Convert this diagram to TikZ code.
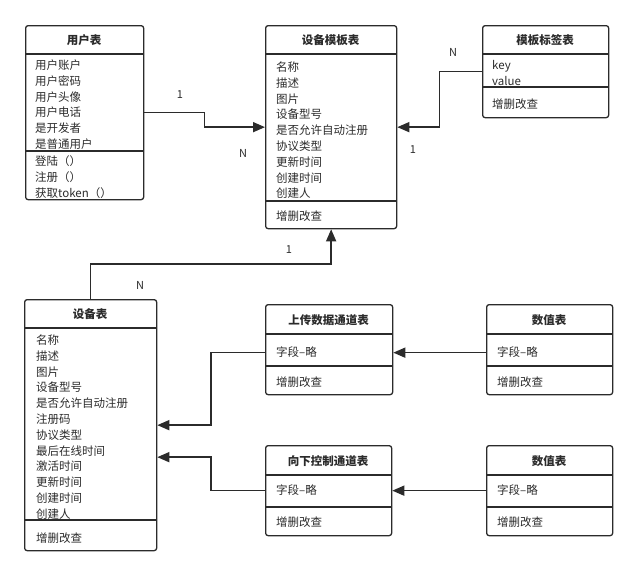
\documentclass[tikz,border=0pt]{standalone}
\usepackage{fontspec}
\setmainfont{Noto Sans CJK SC}
\usetikzlibrary{positioning, arrows.meta, calc}
\definecolor{ink}{HTML}{2B2B2B}

\begin{document}
\begin{tikzpicture}[x=1pt, y=-1pt,
      tbl/.style={draw=ink, line width=1.3pt, rounded corners=2.5pt,
        anchor=north west, inner sep=0pt},
      title/.style={font=\fontsize{11.5}{14}\selectfont\bfseries, text=ink},
      rows/.style={anchor=base west, align=left, inner sep=0pt,
        font=\fontsize{11.5}{15.8}\selectfont, text=ink},
      sep/.style={draw=ink, line width=1.3pt},
      link/.style={-{Triangle[length=12pt, width=10pt]}, draw=ink, line width=1.5pt},
      card/.style={font=\fontsize{11}{13}\selectfont, text=ink}]
    \useasboundingbox (0,0) rectangle (637,576);

    % 用户表
    \node[tbl, minimum width=118pt, minimum height=174pt] (user) at (25,25) {};
    \node[title] (user-t) at (84,40) {用户表};
    \draw[sep] (25,54) -- (143,54) (25,151) -- (143,151);
    \node[rows] (user-a) at (35,148.4) {用户账户\\用户密码\\用户头像\\用户电话\\是开发者\\是普通用户};
    \node[rows] (user-m) at (35,197) {登陆（）\\注册（）\\获取token（）};

    % 设备模板表
    \node[tbl, minimum width=131pt, minimum height=203pt] (tmpl) at (265,25) {};
    \node[title] (tmpl-t) at (330.5,40) {设备模板表};
    \draw[sep] (265,54) -- (396,54) (265,201) -- (396,201);
    \node[rows] (tmpl-a) at (276,197.8) {名称\\描述\\图片\\设备型号\\是否允许自动注册\\协议类型\\更新时间\\创建时间\\创建人};
    \node[rows] (tmpl-m) at (276,220.4) {增删改查};

    % 模板标签表
    \node[tbl, minimum width=126pt, minimum height=92pt] (tag) at (482,25) {};
    \node[title] (tag-t) at (545,40) {模板标签表};
    \draw[sep] (482,54) -- (608,54) (482,87) -- (608,87);
    \node[rows] (tag-a) at (492,85.2) {key\\value};
    \node[rows] (tag-m) at (492,108.4) {增删改查};

    % 设备表
    \node[tbl, minimum width=132pt, minimum height=251pt] (dev) at (24,299) {};
    \node[title] (dev-t) at (90,314) {设备表};
    \draw[sep] (24,328) -- (156,328) (24,520) -- (156,520);
    \node[rows] (dev-a) at (36,518.2) {名称\\描述\\图片\\设备型号\\是否允许自动注册\\注册码\\协议类型\\最后在线时间\\激活时间\\更新时间\\创建时间\\创建人};
    \node[rows] (dev-m) at (36,542.4) {增删改查};

    % 上传数据通道表
    \node[tbl, minimum width=127pt, minimum height=90pt] (up) at (265,304) {};
    \node[title] (up-t) at (328.5,320) {上传数据通道表};
    \draw[sep] (265,334) -- (392,334) (265,366) -- (392,366);
    \node[rows] (up-a) at (276,356.4) {字段–略};
    \node[rows] (up-m) at (276,386.4) {增删改查};

    % 数值表 (上)
    \node[tbl, minimum width=126pt, minimum height=90pt] (val1) at (486,304) {};
    \node[title] (val1-t) at (549,320) {数值表};
    \draw[sep] (486,334) -- (612,334) (486,366) -- (612,366);
    \node[rows] (val1-a) at (497,356.4) {字段–略};
    \node[rows] (val1-m) at (497,386.4) {增删改查};

    % 向下控制通道表
    \node[tbl, minimum width=126pt, minimum height=90pt] (down) at (265,445) {};
    \node[title] (down-t) at (328,461) {向下控制通道表};
    \draw[sep] (265,475) -- (391,475) (265,507) -- (391,507);
    \node[rows] (down-a) at (276,494.4) {字段–略};
    \node[rows] (down-m) at (276,526.4) {增删改查};

    % 数值表 (下)
    \node[tbl, minimum width=126pt, minimum height=90pt] (val2) at (486,445) {};
    \node[title] (val2-t) at (549,461) {数值表};
    \draw[sep] (486,475) -- (612,475) (486,507) -- (612,507);
    \node[rows] (val2-a) at (497,494.4) {字段–略};
    \node[rows] (val2-m) at (497,526.4) {增删改查};

    % relations
    \draw[link] (user.east) -| ($(user.east)!.5!(tmpl.west)$) |- (tmpl.west);
    \draw[link] (tag.west) -| ($(tag.west)!.5!(tmpl.east)$) |- (tmpl.east);
    \draw[link] (dev.north) |- ($(dev.north)!.5!(tmpl.south)$) -| (tmpl.south);
    \draw[link] ([yshift=-3pt]val1.west) -- ([yshift=-3pt]up.east);
    \draw[link] ([yshift=-3pt]up.west) -| ($(up.west)!.5!(dev.east)$) |- (dev.east);
    \draw[link] (val2.west) -- (down.east);
    \draw[link] (down.west) -| ($(down.west)!.5!([yshift=-32pt]dev.east)$) |- ([yshift=-32pt]dev.east);

    \node[card] (c1) at (180,95) {1};
    \node[card] (c2) at (243,153) {N};
    \node[card] (c3) at (453,52) {N};
    \node[card] (c4) at (413,150) {1};
    \node[card] (c5) at (289,250) {1};
    \node[card] (c6) at (140,285) {N};
  \end{tikzpicture}
\end{document}
